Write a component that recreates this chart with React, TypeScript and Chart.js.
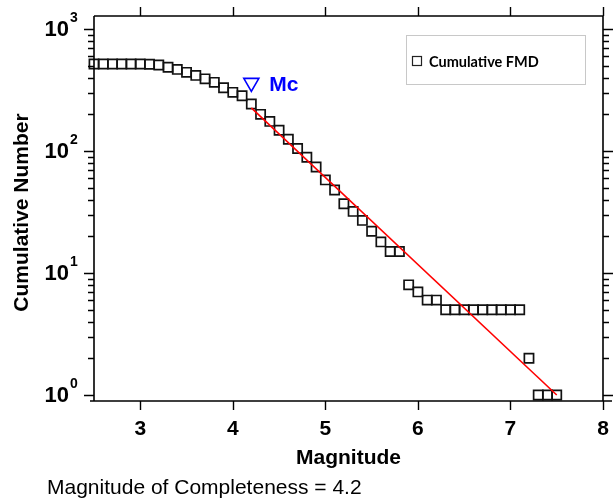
import { useEffect, useRef } from 'react';
import { Chart, registerables } from 'chart.js';

Chart.register(...registerables);

// Magnitude bins (0.1 step) and cumulative number of events
const magnitudes = [
  2.5, 2.6, 2.7, 2.8, 2.9, 3.0, 3.1, 3.2, 3.3, 3.4, 3.5, 3.6, 3.7, 3.8, 3.9, 4.0, 4.1,
  4.2, 4.3, 4.4, 4.5, 4.6, 4.7, 4.8, 4.9, 5.0, 5.1, 5.2, 5.3, 5.4, 5.5, 5.6, 5.7, 5.8,
  5.9, 6.0, 6.1, 6.2, 6.3, 6.4, 6.5, 6.6, 6.7, 6.8, 6.9, 7.0, 7.1, 7.2, 7.3, 7.4, 7.5,
];
const cumulativeCounts = [
  517, 517, 517, 517, 517, 517, 515, 507, 486, 467, 442, 417, 391, 366, 330, 303, 284,
  243, 200, 175, 148, 125, 105, 89, 74, 58, 48, 37, 32, 27, 22, 18, 15, 15,
  8, 7, 6, 6, 5, 5, 5, 5, 5, 5, 5, 5, 5, 2, 1, 1, 1,
];

// Gutenberg-Richter fit line end points
const fitMagnitudes = [4.2, 7.5];
const fitCounts = [226, 1.0];

// Magnitude of completeness marker
const mcMagnitude = [4.2];
const mcCount = [363];
const mcValueText = 'Magnitude of Completeness = 4.2';

const xTickValues = [3, 4, 5, 6, 7, 8];
const yMajorValues = [1, 10, 100, 1000];
const yExponents = ['0', '1', '2', '3'];
const yMinorValues = [2, 3, 4, 5, 6, 7, 8, 9, 20, 30, 40, 50, 60, 70, 80, 90, 200, 300, 400, 500, 600, 700, 800, 900];

const xTitle = 'Magnitude';
const yTitle = 'Cumulative Number';
const legendLabel = 'Cumulative FMD';
const mcLabel = 'Mc';

const SANS = '"Liberation Sans", Arial, sans-serif';

const framePlugin = {
  id: 'frameAxes',
  afterDatasetsDraw(chart: any) {
    const { ctx, chartArea: a, scales } = chart;
    const x = scales.x;
    const y = scales.y;
    ctx.save();
    // frame
    ctx.strokeStyle = '#000';
    ctx.lineWidth = 1.6;
    ctx.beginPath();
    ctx.moveTo(a.left, a.top);
    ctx.lineTo(a.right, a.top);
    ctx.lineTo(a.right, a.bottom);
    ctx.moveTo(a.left, a.top);
    ctx.lineTo(a.left, a.bottom);
    ctx.moveTo(a.left - 4, a.bottom);
    ctx.lineTo(a.right + 9, a.bottom);
    ctx.stroke();

    ctx.lineWidth = 1.4;
    ctx.beginPath();
    for (const t of xTickValues) {
      const px = Math.round(x.getPixelForValue(t)) + 0.5;
      ctx.moveTo(px, a.bottom);
      ctx.lineTo(px, a.bottom + 9);
      ctx.moveTo(px, a.top);
      ctx.lineTo(px, a.top - 9);
    }
    for (const t of yMajorValues) {
      const py = Math.round(y.getPixelForValue(t)) + 0.5;
      ctx.moveTo(a.left - 10, py);
      ctx.lineTo(a.left, py);
      ctx.moveTo(a.right, py);
      ctx.lineTo(a.right + 10, py);
    }
    for (const t of yMinorValues) {
      const py = Math.round(y.getPixelForValue(t)) + 0.5;
      ctx.moveTo(a.left - 6, py);
      ctx.lineTo(a.left, py);
      ctx.moveTo(a.right, py);
      ctx.lineTo(a.right + 6, py);
    }
    ctx.stroke();

    // x tick labels
    ctx.fillStyle = '#000';
    ctx.font = `bold 21px ${SANS}`;
    ctx.textAlign = 'center';
    ctx.textBaseline = 'middle';
    for (const t of xTickValues) {
      ctx.fillText(String(t), x.getPixelForValue(t), a.bottom + 28);
    }
    // y tick labels 10^n
    yMajorValues.forEach((t, i) => {
      const py = y.getPixelForValue(t);
      ctx.font = `bold 22px ${SANS}`;
      ctx.textAlign = 'right';
      ctx.textBaseline = 'middle';
      ctx.fillText('10', 69, py + 1);
      ctx.font = `bold 14px ${SANS}`;
      ctx.textAlign = 'left';
      ctx.fillText(yExponents[i], 70, py - 11);
    });

    // axis titles
    ctx.font = `bold 21px ${SANS}`;
    ctx.textAlign = 'center';
    ctx.textBaseline = 'middle';
    ctx.fillText(xTitle, (a.left + a.right) / 2, a.bottom + 57);
    ctx.save();
    ctx.translate(22, (a.top + a.bottom) / 2 + 4);
    ctx.rotate(-Math.PI / 2);
    ctx.fillText(yTitle, 0, 0);
    ctx.restore();

    // bottom note
    ctx.font = `21px ${SANS}`;
    ctx.textAlign = 'left';
    ctx.fillText(mcValueText, 47, a.bottom + 87);

    // Mc label
    ctx.fillStyle = '#0000ff';
    ctx.font = `bold 21px ${SANS}`;
    ctx.textAlign = 'left';
    ctx.fillText(mcLabel, x.getPixelForValue(mcMagnitude[0]) + 18, y.getPixelForValue(mcCount[0]) + 2);

    // legend box
    ctx.strokeStyle = '#c8c8c8';
    ctx.lineWidth = 1;
    ctx.strokeRect(406.5, 35.5, 179, 49);
    ctx.strokeStyle = '#222';
    ctx.lineWidth = 1.2;
    ctx.strokeRect(412.5, 56.5, 9, 9);
    ctx.fillStyle = '#000';
    ctx.font = 'bold 14.5px Lato, "Open Sans", sans-serif';
    ctx.textAlign = 'left';
    ctx.textBaseline = 'middle';
    ctx.fillText(legendLabel, 429, 62);
    ctx.restore();
  },
};

export default function App() {
  const canvasRef = useRef<HTMLCanvasElement | null>(null);

  useEffect(() => {
    if (!canvasRef.current) return;
    const chart = new Chart(canvasRef.current, {
      type: 'scatter',
      data: {
        datasets: [
          {
            label: 'Fit',
            data: fitMagnitudes.map((m, i) => ({ x: m, y: fitCounts[i] })),
            showLine: true,
            borderColor: '#ff0000',
            borderWidth: 1.6,
            pointRadius: 0,
            order: 0,
            clip: false,
          } as any,
          {
            label: legendLabel,
            data: magnitudes.map((m, i) => ({ x: m, y: cumulativeCounts[i] })),
            pointStyle: 'rect',
            pointRadius: 6.5,
            pointBorderWidth: 1.7,
            borderColor: '#111',
            backgroundColor: 'rgba(255,255,255,0)',
            showLine: false,
            order: 1,
            clip: false,
          } as any,
          {
            label: 'Mc',
            data: mcMagnitude.map((m, i) => ({ x: m, y: mcCount[i] })),
            pointStyle: 'triangle',
            rotation: 180,
            pointRadius: 8.7,
            pointBorderWidth: 1.6,
            borderColor: '#0000ff',
            backgroundColor: 'rgba(255,255,255,0)',
            showLine: false,
            order: 2,
            clip: false,
          } as any,
        ],
      },
      options: {
        responsive: false,
        animation: false,
        events: [],
        layout: { padding: { left: 94, top: 16, right: 13, bottom: 99 } },
        plugins: {
          legend: { display: false },
          tooltip: { enabled: false },
          title: { display: false },
        },
        scales: {
          x: { type: 'linear', min: 2.5, max: 8, display: false },
          y: { type: 'logarithmic', min: 0.893, max: 1280, display: false },
        },
      },
      plugins: [framePlugin],
    });
    return () => chart.destroy();
  }, []);

  return (
    <div style={{ position: 'absolute', left: 0, top: 0, width: 616, height: 500, background: '#fff' }}>
      <canvas ref={canvasRef} width={616} height={500} />
    </div>
  );
}
